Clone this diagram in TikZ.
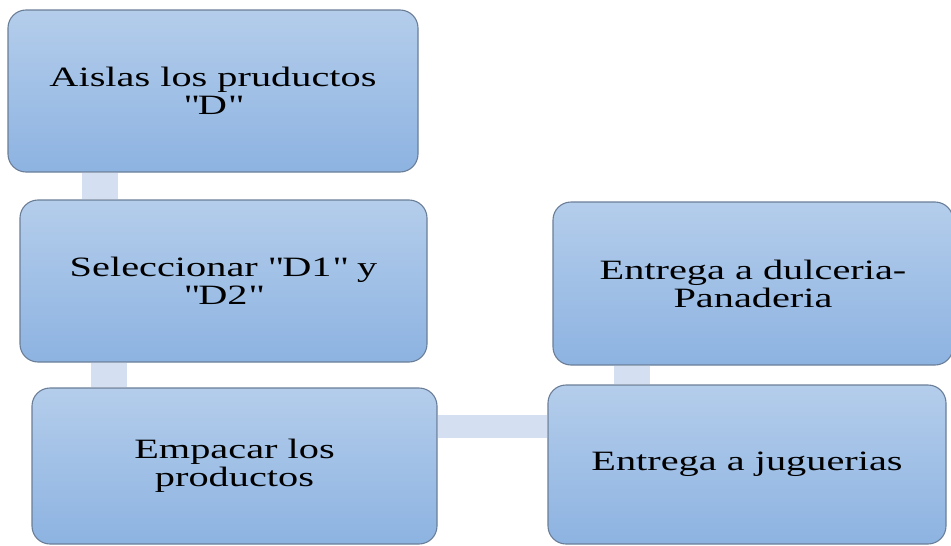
\documentclass[tikz,border=0pt]{standalone}
\usepackage{fontspec}
\setmainfont{Liberation Serif}[FakeStretch=1.44]
\usetikzlibrary{backgrounds}
\definecolor{boxtop}{HTML}{B4CDEB}
\definecolor{boxbot}{HTML}{8DB3E1}
\definecolor{boxline}{HTML}{6A7E98}
\definecolor{connc}{HTML}{D4E0F1}
\newcommand{\qo}{\textquotedbl\kern3pt}
\newcommand{\qc}{\kern1pt\textquotedbl\kern3pt}
\tikzset{
  stepbox/.style={rectangle, rounded corners=18pt, draw=boxline, line width=1.1pt,
    top color=boxtop, bottom color=boxbot, align=center, inner sep=0pt,
    font=\fontsize{28}{28}\selectfont, text=black},
  vconn/.style={draw=connc, line width=36pt, line cap=butt},
  hconn/.style={draw=connc, line width=23pt, line cap=butt}
}
\begin{document}
\begin{tikzpicture}[x=1pt,y=-1pt]
\useasboundingbox (0,0) rectangle (951,546);
\node[stepbox, minimum width=410pt, minimum height=162pt] (b1) at (213,91) {Aislas los pruductos\\\qo D\qc};
\node[stepbox, minimum width=407pt, minimum height=162pt] (b2) at (223.5,281) {Seleccionar \qo D1\qc{} y\\\qo D2\qc};
\node[stepbox, minimum width=405pt, minimum height=156pt] (b3) at (234.5,466) {Empacar los\\productos};
\node[stepbox, minimum width=398pt, minimum height=159pt] (b4) at (747,464.5) {Entrega a juguerias};
\node[stepbox, minimum width=400pt, minimum height=163pt] (b5) at (753,283.5) {Entrega a dulceria-\\Panaderia};
\coordinate (x12) at (100,0);
\coordinate (x23) at (109,0);
\coordinate (y34) at (0,426.5);
\coordinate (x45) at (631.5,0);
\begin{scope}[on background layer]
\draw[vconn] (b1.south -| x12) -- (b2.north -| x12);
\draw[vconn] (b2.south -| x23) -- (b3.north -| x23);
\draw[hconn] (b3.east |- y34) -- (b4.west |- y34);
\draw[vconn] (b4.north -| x45) -- (b5.south -| x45);
\end{scope}
\end{tikzpicture}
\end{document}
